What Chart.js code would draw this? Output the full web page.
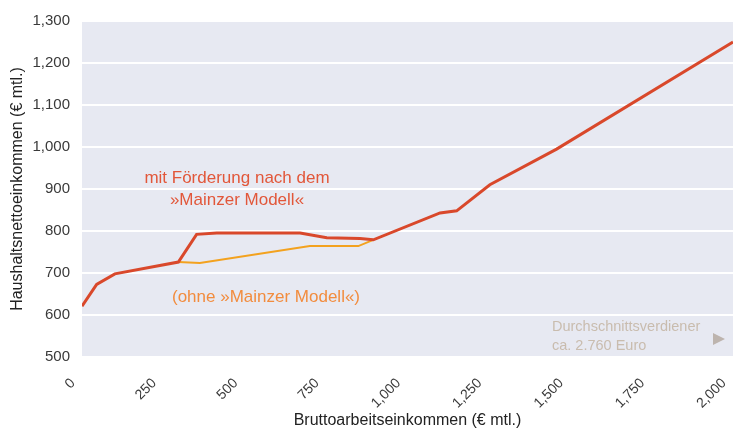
<!DOCTYPE html>
<html>
<head>
<meta charset="utf-8">
<script src="https://cdn.jsdelivr.net/npm/chart.js@4"></script>
<style>
  html, body { margin: 0; padding: 0; background: #fff; }
  #wrap { width: 733px; height: 432px; }
</style>
</head>
<body>
<div id="wrap"><canvas id="chart" width="733" height="432"></canvas></div>
<script>
// income (x) and household net income (y)
var mitIncome = [0, 45, 101, 296, 352, 414, 670, 752, 854, 895, 1100, 1151, 1253, 1458, 2000];
var mitNetto = [621, 673, 698, 726, 792, 795, 795, 784, 782, 779, 843, 848, 910, 995, 1250];
var ohneIncome = [296, 362, 700, 849, 895];
var ohneNetto = [726, 724, 764, 764, 779];
var xTicks = [0, 250, 500, 750, 1000, 1250, 1500, 1750, 2000];

function toPoints(xs, ys) {
    return xs.map(function(x, i) { return { x: x, y: ys[i] }; });
}

// plot background + text notes
var decor = {
    id: 'decor',
    beforeDraw: function(chart) {
        var a = chart.chartArea, c = chart.ctx;
        c.save();
        c.fillStyle = '#e7e9f2';
        c.fillRect(a.left, a.top, a.right - a.left, a.bottom - a.top);
        c.restore();
    },
    afterDraw: function(chart) {
        var c = chart.ctx;
        c.save();
        c.textAlign = 'center';
        c.textBaseline = 'middle';
        c.font = '17px "Liberation Sans", Arial, sans-serif';
        c.fillStyle = '#e2573a';
        c.fillText('mit Förderung nach dem', 237, 178);
        c.fillText('»Mainzer Modell«', 237, 200);
        c.fillStyle = '#f28c3e';
        c.fillText('(ohne »Mainzer Modell«)', 266, 297);
        c.textAlign = 'left';
        c.font = '14.5px "Liberation Sans", Arial, sans-serif';
        c.fillStyle = '#c9bcae';
        c.fillText('Durchschnittsverdiener', 552, 327);
        c.fillText('ca. 2.760 Euro', 552, 346);
        c.beginPath();
        c.moveTo(713, 333);
        c.lineTo(725, 339);
        c.lineTo(713, 345);
        c.closePath();
        c.fillStyle = '#bdb4ae';
        c.fill();
        c.restore();
    }
};

Chart.defaults.font.family = '"Liberation Sans", Arial, sans-serif';
Chart.defaults.color = '#333';

new Chart(document.getElementById('chart').getContext('2d'), {
    type: 'line',
    data: {
        datasets: [{
            label: 'mit Förderung',
            data: toPoints(mitIncome, mitNetto),
            borderColor: '#d9482b',
            borderWidth: 3,
            pointRadius: 0,
            tension: 0,
            order: 1
        }, {
            label: 'ohne',
            data: toPoints(ohneIncome, ohneNetto),
            borderColor: '#f3a21f',
            borderWidth: 2,
            pointRadius: 0,
            tension: 0,
            order: 2
        }]
    },
    options: {
        responsive: false,
        animation: false,
        layout: { padding: { top: 19, right: 0, left: 0, bottom: 0 } },
        plugins: { legend: { display: false }, tooltip: { enabled: false } },
        scales: {
            x: {
                type: 'linear',
                min: 0,
                max: 2000,
                afterBuildTicks: function(s) { s.ticks = xTicks.map(function(v) { return { value: v }; }); },
                afterFit: function(s) { s.height = 75; s.paddingRight = 0; },
                grid: { display: false, drawTicks: false },
                border: { display: false },
                ticks: { minRotation: 45, maxRotation: 45, padding: 18, labelOffset: -9, font: { size: 14 }, color: '#3a3a3a' },
                title: { display: true, text: 'Bruttoarbeitseinkommen (€ mtl.)', font: { size: 16 }, color: '#222', padding: { top: 0, bottom: 2 } }
            },
            y: {
                min: 500,
                max: 1300,
                afterFit: function(s) { s.width = 82; },
                grid: { color: '#ffffff', lineWidth: 2, drawTicks: false },
                border: { display: false },
                ticks: { stepSize: 100, padding: 12, font: { size: 15 }, color: '#3a3a3a' },
                title: { display: true, text: 'Haushaltsnettoeinkommen (€ mtl.)', font: { size: 16 }, color: '#222', padding: { top: 8, bottom: 0 } }
            }
        }
    },
    plugins: [decor]
});
</script>
</body>
</html>
